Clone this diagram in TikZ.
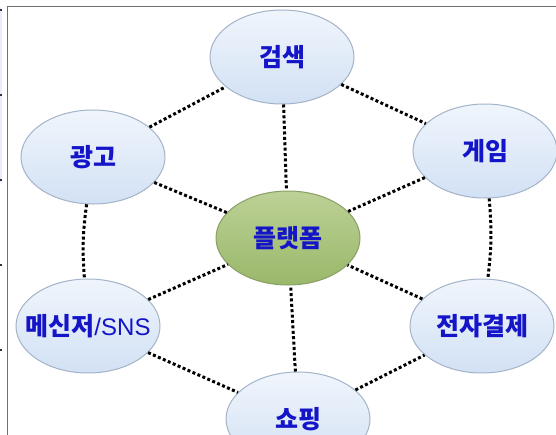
\documentclass[tikz,border=0pt]{standalone}
\usepackage{fontspec}
\newfontfamily\krfont{Noto Sans CJK KR}
\newfontfamily\latfont{Liberation Sans}
\usetikzlibrary{shapes.geometric}
\definecolor{txtblue}{HTML}{1414C8}
\definecolor{bluetop}{HTML}{F0F5FC}
\definecolor{bluebot}{HTML}{D2E1F4}
\definecolor{blueline}{HTML}{A3B3C8}
\definecolor{greentop}{HTML}{BCD196}
\definecolor{greenbot}{HTML}{9AB86A}
\definecolor{greenline}{HTML}{8A9E66}
\definecolor{framegray}{HTML}{707070}
\tikzset{
  outer/.style={ellipse, minimum width=144pt, minimum height=94pt, inner sep=0pt,
    draw=blueline, line width=1pt, top color=bluetop, bottom color=bluebot,
    font=\krfont\bfseries\fontsize{25}{28}\selectfont, text=txtblue},
  hub/.style={outer, draw=greenline, top color=greentop, bottom color=greenbot},
  dots/.style={line width=3pt, dash pattern=on 3pt off 2.4pt, black}
}
\begin{document}
\begin{tikzpicture}[x=1pt,y=-1pt]
\useasboundingbox (0,0) rectangle (556,434);
\clip (0,0) rectangle (556,434);
% page artefacts
\fill[blue!8] (0,8) rectangle (2,182);
\foreach \yy in {10,95,180,265,350} \fill[black!80] (0,\yy-0.6) rectangle (2,\yy+0.6);
% frame
\draw[framegray, line width=1.5pt] (7.5,440) -- (7.5,6.5) -- (560,6.5);
% nodes
\node[outer] (search) at (282,57) {검색};
\node[outer] (ad) at (93,157) {광고};
\node[outer] (game) at (485,151) {게임};
\node[hub] (plat) at (288,238) {플랫폼};
\node[outer] (msg) at (88,326) {\makebox[0pt]{메신저{\latfont\mdseries\fontsize{24}{28}\selectfont/SNS}}};
\node[outer] (pay) at (482,326) {전자결제};
\node[outer] (shop) at (298,419) {쇼핑};
% spokes
\draw[dots] (search) -- (plat);
\draw[dots] (ad) -- (plat);
\draw[dots] (game) -- (plat);
\draw[dots] (msg) -- (plat);
\draw[dots] (pay) -- (plat);
\draw[dots] (shop) -- (plat);
% ring
\draw[dots] (ad) -- (search);
\draw[dots] (search) -- (game);
\draw[dots] (game) to[bend left=6] (pay);
\draw[dots] (ad) to[bend right=6] (msg);
\draw[dots] (msg) -- (shop);
\draw[dots] (shop) -- (pay);
\end{tikzpicture}
\end{document}
